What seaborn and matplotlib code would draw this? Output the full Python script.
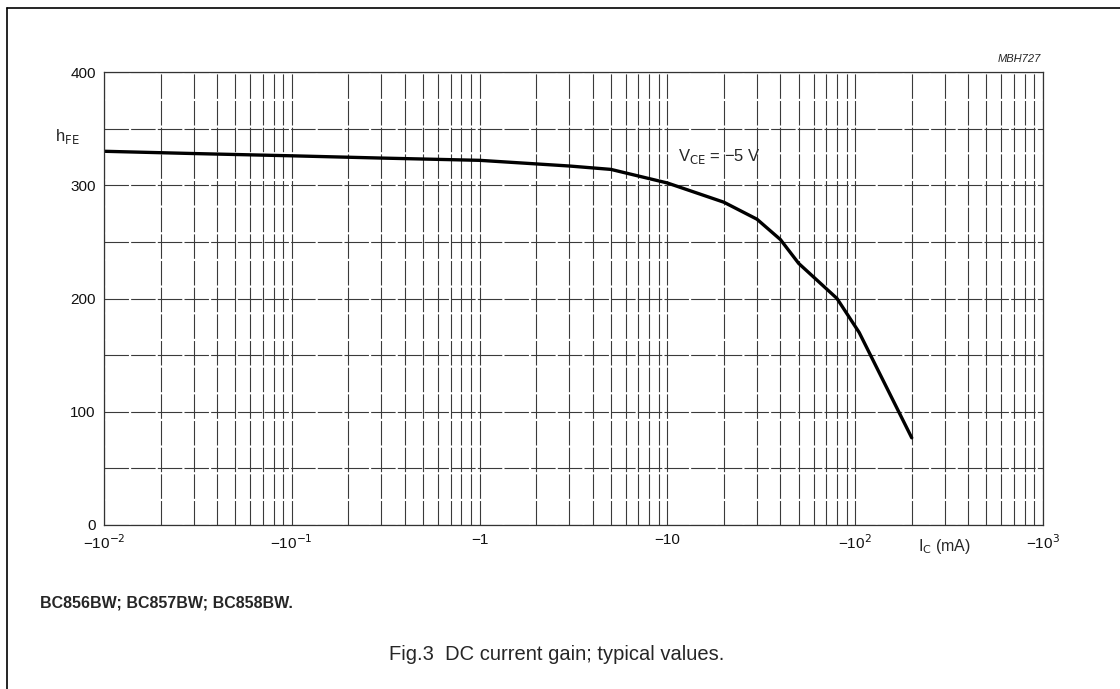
import matplotlib
matplotlib.use("Agg")
import matplotlib.pyplot as plt
from matplotlib.ticker import LogLocator, MultipleLocator, FixedLocator, NullFormatter
from matplotlib.lines import Line2D
import seaborn as sns
import pandas as pd

# ==============================
# Data (VCE = -5 V)
# ==============================
ic_ma = [0.01, 0.03, 0.1, 0.3, 1, 3, 5, 10, 20, 30, 40, 50, 60, 80, 90, 105, 200]
hfe = [330, 328, 326, 324, 322, 317, 314, 302, 285, 270, 252, 231, 219, 200, 187, 170, 77]

x_ticks = [1e-2, 1e-1, 1, 10, 1e2, 1e3]
x_tick_labels = ["\u221210$^{-2}$", "\u221210$^{-1}$", "\u22121", "\u221210",
                 "\u221210$^{2}$", "\u221210$^{3}$"]
y_ticks = [0, 100, 200, 300, 400]

df = pd.DataFrame({"ic": ic_ma, "hfe": hfe})

# ==============================
# Figure
# ==============================
sns.set_style("white")
plt.rcParams["font.family"] = ["Liberation Sans", "DejaVu Sans"]

fig = plt.figure(figsize=(11.2, 6.89), dpi=100)
ax = fig.add_axes([104 / 1120, 1 - 525 / 689, (1043 - 104) / 1120, (525 - 72) / 689])

sns.lineplot(data=df, x="ic", y="hfe", color="black", linewidth=2.4, ax=ax)

ax.set_xscale("log")
ax.set_xlim(1e-2, 1e3)
ax.set_ylim(0, 400)

ax.xaxis.set_major_locator(FixedLocator(x_ticks))
ax.set_xticklabels(x_tick_labels)
ax.xaxis.set_minor_locator(LogLocator(base=10, subs=range(2, 10)))
ax.xaxis.set_minor_formatter(NullFormatter())
ax.yaxis.set_major_locator(FixedLocator(y_ticks))
ax.yaxis.set_minor_locator(MultipleLocator(50))

ax.grid(which="both", color="#3a3a3a", linewidth=0.8, linestyle=(0, (22, 2)))
ax.tick_params(which="both", length=0, labelsize=11, pad=6, colors="#111111")
for side, sp in ax.spines.items():
    sp.set_color("#333333")
    sp.set_linewidth(0.9)

ax.set_xlabel("")
ax.set_ylabel("")

# labels and annotations
fig.text(55 / 1120, 1 - 137 / 689, "h$_{\\mathrm{FE}}$", fontsize=12, va="center")
fig.text(918 / 1120, 1 - 547 / 689, "I$_{\\mathrm{C}}$ (mA)", fontsize=11.5, va="center")
ax.text(11.4, 317, "V$_{\\mathrm{CE}}$ = \u22125 V", fontsize=12, va="bottom")
fig.text(1041 / 1120, 1 - 59 / 689, "MBH727", fontsize=8, style="italic",
         ha="right", va="center")
fig.text(40 / 1120, 1 - 603 / 689, "BC856BW; BC857BW; BC858BW.", fontsize=11.5,
         fontweight="bold", va="center")
fig.text(557 / 1120, 1 - 655 / 689, "Fig.3  DC current gain; typical values.",
         fontsize=14.5, ha="center", va="center")

# page frame
fig.add_artist(Line2D([7 / 1120, 7 / 1120], [0, 1 - 8 / 689], color="black",
                      linewidth=1.2, transform=fig.transFigure))
fig.add_artist(Line2D([7 / 1120, 1], [1 - 8 / 689, 1 - 8 / 689], color="black",
                      linewidth=1.2, transform=fig.transFigure))

fig.savefig("out.png", dpi=100)
